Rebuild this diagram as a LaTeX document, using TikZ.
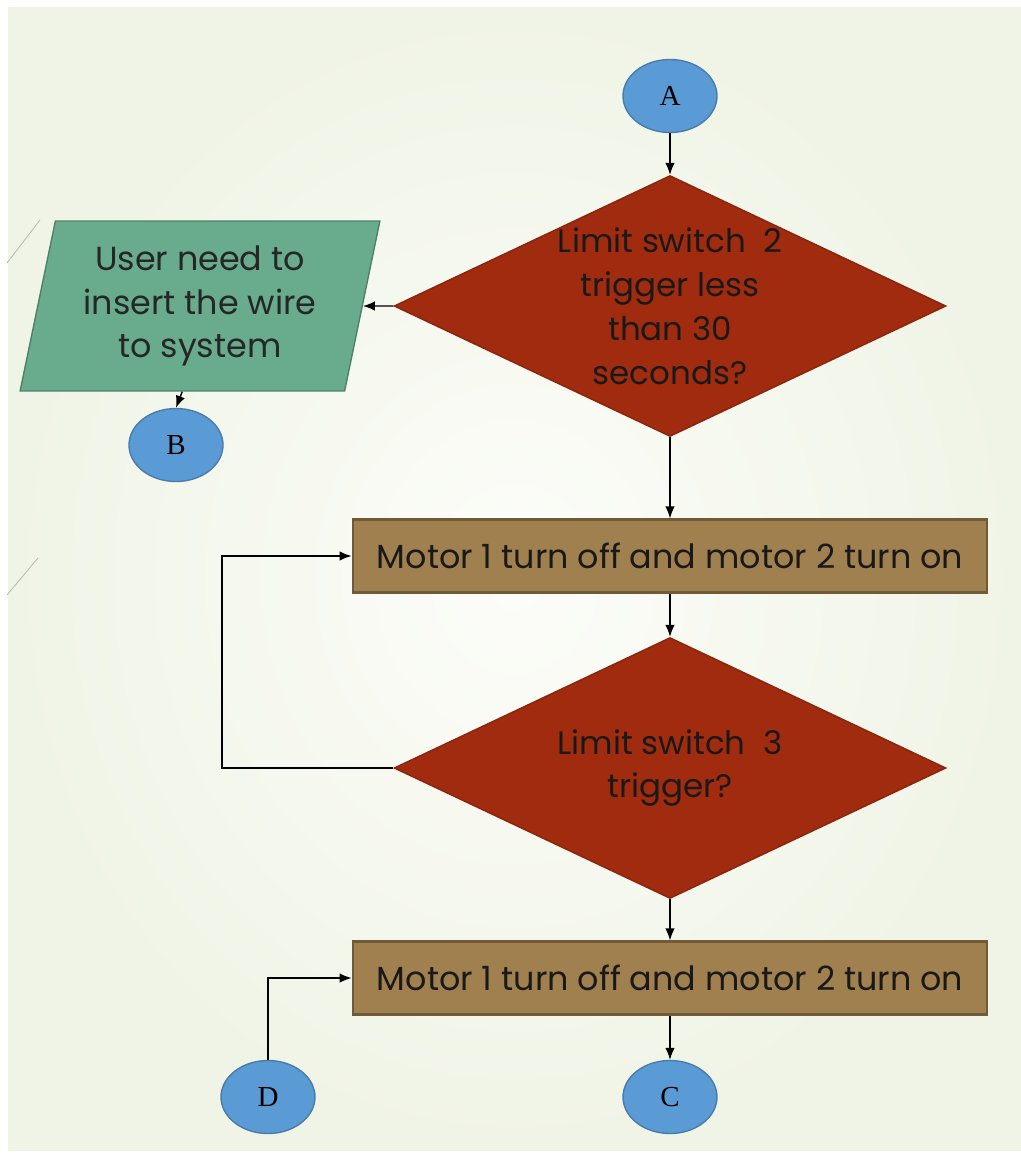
\documentclass[tikz,border=0pt]{standalone}
\usepackage{fontspec}
\setmainfont{Poppins}
\newfontfamily\connfont{Liberation Serif}
\usetikzlibrary{arrows.meta,shapes.geometric,calc}

\definecolor{connblue}{HTML}{5B9BD5}
\definecolor{decred}{HTML}{A12B0E}
\definecolor{iogreen}{HTML}{69AC8D}
\definecolor{procbrown}{HTML}{A0804F}
\definecolor{panelin}{HTML}{FCFDF9}
\definecolor{panelout}{HTML}{F0F4E6}

\begin{document}
\begin{tikzpicture}[x=0.02cm,y=-0.02cm,line width=0.8pt,
  >={Latex[length=2.4mm,width=1.9mm]},
  conn/.style={ellipse,draw=connblue!80!black,fill=connblue,minimum width=1.88cm,minimum height=1.46cm,inner sep=0pt,font=\connfont\fontsize{16.5}{16.5}\selectfont},
  decision/.style={diamond,draw=decred!85!black,fill=decred,minimum width=11.04cm,minimum height=5.22cm,inner sep=0pt},
  process/.style={rectangle,draw=procbrown!70!black,line width=1.2pt,fill=procbrown,minimum width=12.7cm,minimum height=1.46cm,inner sep=0pt,text=black!90,font=\fontsize{19}{25}\selectfont},
  io/.style={trapezium,trapezium left angle=76.8,trapezium right angle=103.2,trapezium stretches=true,draw=iogreen!75!black,fill=iogreen,minimum width=7.2cm,minimum height=3.4cm,inner sep=0pt,align=center,text=black!85,font=\fontsize{19}{25}\selectfont},
  txt/.style={align=center,text=black!90,font=\fontsize{18.5}{25}\selectfont}]

\useasboundingbox (0,0) rectangle (1021,1154);
\shade[inner color=panelin,outer color=panelout] (8,7) rectangle (1021,1150);
\draw[gray!55,line width=0.5pt] (7,263) -- (40,220);
\draw[gray!55,line width=0.5pt] (7,595) -- (38,558);

% connectors
\foreach \l/\x/\y in {A/670/96, B/176/445, C/670/1097, D/268/1097}
{
  \node[conn] (\l) at (\x, \y) {\l};
}

\node[decision] (d1) at (670, 306) {};
\node[txt] (d1t) at (d1) {Limit switch\ \ 2\\trigger less\\than 30\\seconds?};

\node[io] (wire) at (200, 306) {User need to\\insert the wire\\to system};

\foreach \n/\y in {1/556, 2/978}
{
  \node[process] (box\n) at (670, \y) {Motor 1 turn off and motor 2 turn on};
}

\node[decision] (d2) at (670, 768) {};
\node[txt] (d2t) at (d2) {Limit switch\ \ 3\\trigger?};

\coordinate (wirebot) at ($(wire.bottom left corner)!0.5!(wire.bottom right corner)$);
\coordinate (loop) at (222, 768);

\path[->] (A) edge (d1);
\path[->] (d1.west) edge (wire.east);
\path[->] (wirebot) edge (B.north);
\path[->] (d1.south) edge (box1.north);
\path[->] (box1.south) edge (d2.north);
\path[->] (d2.south) edge (box2.north);
\path[->] (box2.south) edge (C.north);

\draw[->,line width=0.6pt] (d2.west) -- (loop) |- (box1.west);
\draw[->,line width=0.6pt] (D.north) |- (box2.west);

\end{tikzpicture}
\end{document}
